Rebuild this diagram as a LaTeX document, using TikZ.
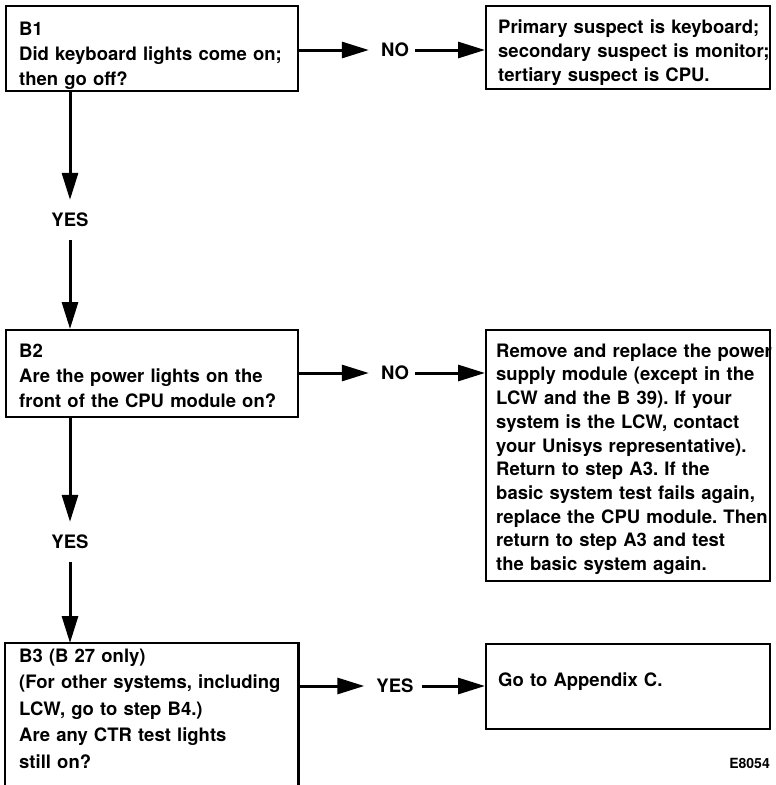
\documentclass[tikz,border=0pt]{standalone}
\usepackage{fontspec}
\setmainfont{TeX Gyre Heros}
\usetikzlibrary{arrows.meta}
% left indent of the text inside a box; lines are broken by hand
\newcommand\boxinset[1]{\parindent=0pt\leftskip=#1\rightskip=-40pt plus 1fil\frenchspacing\relax}
\begin{document}
\begin{tikzpicture}[x=1pt, y=-1pt,
  every node/.style={font=\bfseries\fontsize{18.5}{25}\selectfont},
  frame/.style={draw, line width=2.4pt, anchor=north west, inner sep=0pt},
  tag/.style={inner sep=0pt},
  flow/.style={line width=3pt, -{Triangle[length=27pt,width=16pt]}},
  rim/.style={line width=2.4pt, line join=miter},
]
\useasboundingbox (0,0) rectangle (776,785);

% question boxes
\node[frame, text width=292pt, text height=29pt, text depth=56pt] (b1) at (5,5)
  {\boxinset{13pt}B1\\Did keyboard lights come on;\\then go off?\par};
\node[frame, text width=292pt, text height=27pt, text depth=60pt] (b2) at (5,329)
  {\boxinset{13pt}B2\\Are the power lights on the\\front of the CPU module on?\par};
\node[frame, draw=none, text width=291pt, text height=18pt, text depth=127pt,
      font=\bfseries\fontsize{18.5}{26.5}\selectfont] (b3) at (5,643)
  {\boxinset{13pt}B3 (B 27 only)\\(For other systems, including\\LCW, go to step B4.)\\Are any CTR test lights\\still on?\par};
\draw[rim] (b3.south west) -- (b3.north west) -- (b3.north east) -- (b3.south east);

% answer boxes
\node[frame, text width=284pt, text height=27pt, text depth=56pt,
      font=\bfseries\fontsize{18.5}{24}\selectfont] (r1) at (485,5)
  {\boxinset{12pt}Primary suspect is keyboard;\\secondary suspect is monitor;\\tertiary suspect is CPU.\par};
\node[frame, text width=284pt, text height=27pt, text depth=224pt,
      font=\bfseries\fontsize{18.5}{23.7}\selectfont] (r2) at (485,329)
  {\boxinset{10pt}Remove and replace the power\\supply module (except in the\\LCW and the B 39). If your\\system is the LCW, contact\\your Unisys representative).\\Return to step A3. If the\\basic system test fails again,\\replace the CPU module. Then\\return to step A3 and test\\the basic system again.\par};
\node[frame, text width=284pt, text height=42pt, text depth=43pt] (r3) at (485,643)
  {\boxinset{12pt}Go to Appendix C.\par};

% branch labels
\node[tag] (no1) at (395,50) {NO};
\node[tag] (yes1) at (70,220) {YES};
\node[tag] (no2) at (395,373) {NO};
\node[tag] (yes2) at (70,542) {YES};
\node[tag] (yes3) at (395,686) {YES};
\node[tag, font=\bfseries\fontsize{14}{16}\selectfont, anchor=base east] (code) at (770,768) {E8054};

% horizontal connectors
\draw[flow, shorten >=12pt] (b1.east |- no1) -- (no1.west);
\draw[flow, shorten <=6pt] (no1.east) -- (r1.west |- no1);
\draw[flow, shorten >=12pt] (b2.east |- no2) -- (no2.west);
\draw[flow, shorten <=6pt] (no2.east) -- (r2.west |- no2);
\draw[flow, shorten >=12pt] (b3.east |- yes3) -- (yes3.west);
\draw[flow, shorten <=8pt] (yes3.east) -- (r3.west |- yes3);

% vertical connectors
\draw[flow, shorten >=13pt] (yes1 |- b1.south) -- (yes1.north);
\draw[flow, shorten <=13pt] (yes1.south) -- (yes1 |- b2.north);
\draw[flow, shorten >=13pt] (yes2 |- b2.south) -- (yes2.north);
\draw[flow, shorten <=13pt] (yes2.south) -- (yes2 |- b3.north);
\end{tikzpicture}
\end{document}
